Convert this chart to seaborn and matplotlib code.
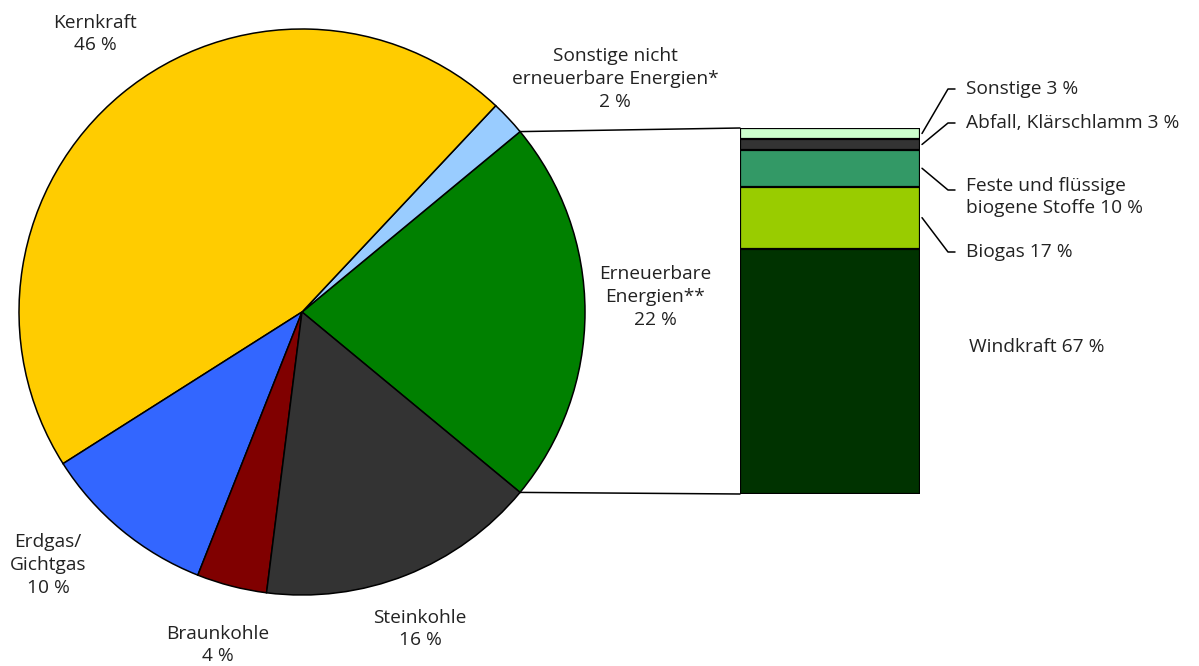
import matplotlib
matplotlib.use("Agg")
import matplotlib.pyplot as plt
import seaborn as sns
import numpy as np
from matplotlib.patches import ConnectionPatch

# Daten
pie_labels = ["Erneuerbare\nEnergien**\n22 %", "Sonstige nicht\nerneuerbare Energien*\n2 %",
              "Kernkraft\n46 %", "Erdgas/\nGichtgas\n10 %", "Braunkohle\n4 %", "Steinkohle\n16 %"]
pie_values = [22, 2, 46, 10, 4, 16]
pie_colors = ["#008000", "#99CCFF", "#FFCC00", "#3366FF", "#800000", "#333333"]

bar_labels = ["Windkraft 67 %", "Biogas 17 %", "Feste und flüssige\nbiogene Stoffe 10 %",
              "Abfall, Klärschlamm 3 %", "Sonstige 3 %"]
bar_values = [67, 17, 10, 3, 3]
bar_colors = ["#003300", "#99CC00", "#339966", "#333333", "#CCFFCC"]

sns.set_style("white")
plt.rcParams['font.family'] = ['Open Sans', 'DejaVu Sans']
txt_color = "#222222"

W, H = 1199, 666
fig = plt.figure(figsize=(W / 100, H / 100), dpi=100)

# Overlay fuer Beschriftungen (Pixelkoordinaten)
ov = fig.add_axes([0, 0, 1, 1])
ov.set_xlim(0, W)
ov.set_ylim(H, 0)
ov.axis("off")

# Kreisdiagramm
cx, cy, r = 302, 312, 283
axp = fig.add_axes([(cx - r) / W, (H - cy - r) / H, 2 * r / W, 2 * r / H])
start = -pie_values[0] / 100 * 360 / 2
axp.pie(pie_values, colors=pie_colors, startangle=start, counterclock=True,
        wedgeprops=dict(edgecolor="black", linewidth=1.1))
axp.set_xlim(-1, 1)
axp.set_ylim(-1, 1)
axp.axis("off")

# Gestapelte Saeule
bx0, bx1, by0, by1 = 740, 920, 128, 494
axb = fig.add_axes([bx0 / W, (H - by1) / H, (bx1 - bx0) / W, (by1 - by0) / H])
cum = np.cumsum(bar_values)
for i in range(len(bar_values) - 1, -1, -1):
    sns.barplot(x=[0], y=[cum[i]], color=bar_colors[i], saturation=1, width=1,
                edgecolor="black", linewidth=1.6, ax=axb)
axb.set_xlim(-0.5, 0.5)
axb.set_ylim(0, 100)
axb.axis("off")

# Verbindungslinien
ang = np.deg2rad(pie_values[0] / 100 * 360 / 2)
for sgn, ytop in [(1, 100), (-1, 0)]:
    con = ConnectionPatch(xyA=(np.cos(ang), sgn * np.sin(ang)), coordsA=axp.transData,
                          xyB=(-0.5, ytop), coordsB=axb.transData,
                          color="black", linewidth=1.1)
    fig.add_artist(con)

# Beschriftungen Kreis
pie_text_pos = [(655, 297), (615, 79), (95, 34), (48, 565), (218, 645), (420, 629)]
for lab, (x, y) in zip(pie_labels, pie_text_pos):
    ov.text(x, y, lab, ha="center", va="center", fontsize=13.8, color=txt_color,
            linespacing=1.35)

# Beschriftungen Saeule mit Fuehrungslinien
scale = (by1 - by0) / 100
mids = cum - np.array(bar_values) / 2
bar_text_pos = [(969, 347), (966, 252), (966, 197), (966, 123), (966, 89)]
for i, (lab, (x, y)) in enumerate(zip(bar_labels, bar_text_pos)):
    ov.text(x, y, lab, ha="left", va="center", fontsize=13.8, color=txt_color,
            linespacing=1.35)
    if i == 0:
        continue
    ym = by1 - mids[i] * scale
    ly = y if i != 2 else 190
    ov.plot([bx1 + 2, 948, 955], [ym, ly, ly], color="black", linewidth=1.1)

fig.savefig("out.png", dpi=100)
